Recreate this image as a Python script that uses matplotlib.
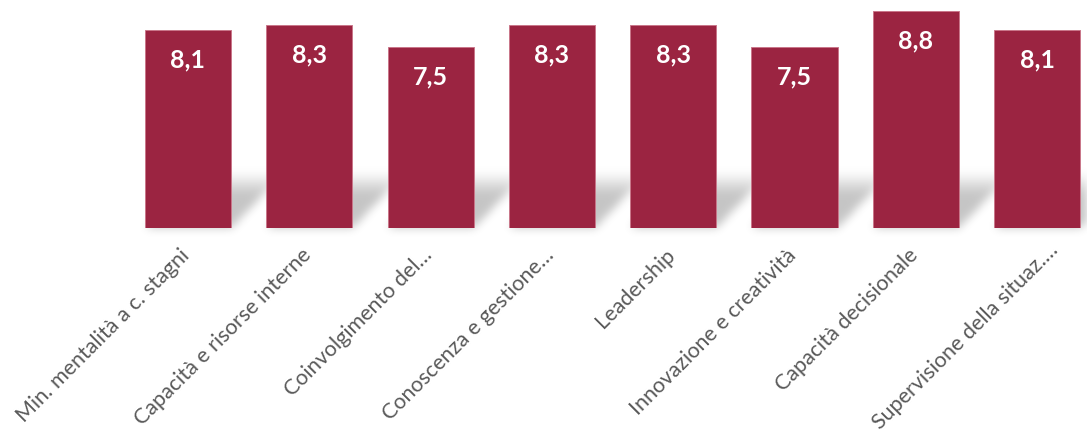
import numpy as np
import matplotlib
matplotlib.use("Agg")
import matplotlib.pyplot as plt
from matplotlib.transforms import ScaledTranslation

categories = [
    "Min. mentalità a c. stagni",
    "Capacità e risorse interne",
    "Coinvolgimento del…",
    "Conoscenza e gestione…",
    "Leadership",
    "Innovazione e creatività",
    "Capacità decisionale",
    "Supervisione della situaz.…",
]
scores = [8.1, 8.3, 7.5, 8.3, 8.3, 7.5, 8.8, 8.1]

BAR_COLOR = "#9B2441"
EDGE_COLOR = "#C9778A"
LABEL_COLOR = "#595959"

W_PX, H_PX, DPI = 1087, 432, 100
fig = plt.figure(figsize=(W_PX / DPI, H_PX / DPI), dpi=DPI)
fig.patch.set_facecolor("white")

ax = fig.add_axes([0.0, 0.4715, 1.0, 0.5285])
ax.patch.set_alpha(0)
x = np.arange(len(categories))
bar_w = 0.71
bars = ax.bar(x, scores, width=bar_w, bottom=0, color=BAR_COLOR,
              edgecolor=EDGE_COLOR, linewidth=0.7, zorder=3)
ax.set_xlim(-1.55, 7.412)
ax.set_ylim(1.0, 9.18)
for s in ax.spines.values():
    s.set_visible(False)
ax.set_yticks([])
ax.set_xticks(x)
ax.set_xticklabels(categories, rotation=45, ha="right", va="top",
                   rotation_mode="anchor", fontsize=15.5,
                   family="Lato", color=LABEL_COLOR)
ax.tick_params(axis="x", length=0, pad=12)
labels = ax.get_xticklabels()
for i, lbl in enumerate(labels):
    # the truncated last label sits a little further along its diagonal
    dx, dy = (8 / 72, 4 / 72) if i == len(labels) - 1 else (-6 / 72, 0)
    lbl.set_transform(lbl.get_transform()
                      + ScaledTranslation(dx, dy, fig.dpi_scale_trans))

# value labels inside the top of each bar
for xi, v in zip(x, scores):
    ax.annotate(f"{v:.1f}".replace(".", ","), xy=(xi, v),
                xytext=(0, -30), textcoords="offset pixels",
                ha="center", va="center", color="white",
                fontsize=18, fontweight="bold", family="Lato", zorder=4)

# soft perspective shadow cast by each bar towards the back-right
fig.canvas.draw()
shade = np.zeros((H_PX, W_PX))
rows = np.arange(H_PX)
cols = np.arange(W_PX)
ydisp = (H_PX - 1 - rows)[:, None]
xdisp = cols[None, :]
h_s = 60.0
for xi, v in zip(x, scores):
    (x0, yb), (x1, _) = ax.transData.transform([(xi - bar_w / 2, 1.0),
                                                (xi + bar_w / 2, 1.0)])
    t = (ydisp - yb) / h_s
    inside = (t >= 0) & (t <= 1)
    skew = t * h_s * 0.95
    mask = inside & (xdisp >= x0 + skew) & (xdisp <= x1 + skew)
    fade = np.clip((1.0 - t) / 0.5, 0, 1)
    fade = fade * fade * (3 - 2 * fade)
    shade = np.maximum(shade, mask * fade)

def blur(a, sigma):
    r = int(3 * sigma)
    k = np.exp(-0.5 * (np.arange(-r, r + 1) / sigma) ** 2)
    k /= k.sum()
    out = np.zeros_like(a)
    pad = np.pad(a, ((0, 0), (r, r)), mode="constant")
    for i, w in enumerate(k):
        out += w * pad[:, i:i + a.shape[1]]
    pad = np.pad(out, ((r, r), (0, 0)), mode="constant")
    out2 = np.zeros_like(a)
    for i, w in enumerate(k):
        out2 += w * pad[i:i + a.shape[0], :]
    return out2

shade = blur(shade, 4.5)
rgba = np.zeros((H_PX, W_PX, 4))
rgba[..., 3] = 0.23 * shade
fig.figimage(rgba, xo=0, yo=0, origin="upper", zorder=-1)

fig.savefig("out.png", dpi=DPI, facecolor="white")
